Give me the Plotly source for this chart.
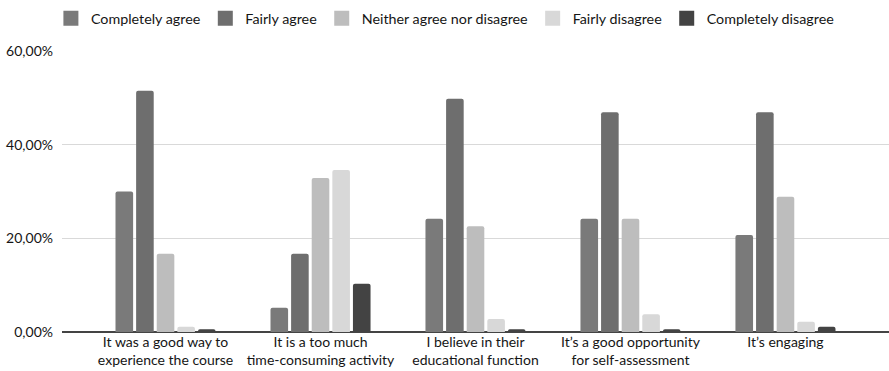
import plotly.graph_objects as go

# Survey statements (x categories)
statements = [
    "It was a good way to<br>experience the course",
    "It is a too much<br>time-consuming activity",
    "I believe in their<br>educational function",
    "It\u2019s a good opportunity<br>for self-assessment",
    "It\u2019s engaging",
]

# Share of answers per response option (fractions)
completely_agree = [0.300, 0.052, 0.242, 0.242, 0.207]
fairly_agree = [0.515, 0.167, 0.498, 0.469, 0.469]
neither = [0.167, 0.329, 0.226, 0.242, 0.289]
fairly_disagree = [0.011, 0.346, 0.028, 0.038, 0.022]
completely_disagree = [0.006, 0.103, 0.006, 0.006, 0.011]

series_names = [
    "Completely agree",
    "Fairly agree",
    "Neither agree nor disagree",
    "Fairly disagree",
    "Completely disagree",
]
series_values = [completely_agree, fairly_agree, neither, fairly_disagree, completely_disagree]
series_colors = ["#7a7a7a", "#6e6e6e", "#bdbdbd", "#d8d8d8", "#434343"]

FONT = "Lato, 'Open Sans', sans-serif"
TEXT = "#151515"

fig = go.Figure()
for name, vals, col in zip(series_names, series_values, series_colors):
    fig.add_trace(go.Bar(
        x=statements,
        y=vals,
        name=name,
        legendgroup=name,
        showlegend=False,
        marker=dict(color=col, line=dict(width=0), cornerradius=2),
        hoverinfo="skip",
    ))
    # larger square swatch for the legend entry
    fig.add_trace(go.Scatter(
        x=[None],
        y=[None],
        mode="markers",
        name=name,
        legendgroup=name,
        marker=dict(symbol="square", size=15, color=col, line=dict(width=0)),
        hoverinfo="skip",
    ))

fig.update_layout(
    width=889,
    height=371,
    margin=dict(l=62, r=0, t=51, b=39),
    paper_bgcolor="white",
    plot_bgcolor="white",
    barmode="group",
    bargap=0.335,
    bargroupgap=0.146,
    separators=",.",
    font=dict(family=FONT, size=14, color=TEXT),
    legend=dict(
        orientation="h",
        x=0.463,
        xanchor="center",
        y=0.95,
        yanchor="middle",
        yref="container",
        font=dict(size=14.3, color=TEXT),
        itemwidth=30,
        bgcolor="rgba(0,0,0,0)",
    ),
    showlegend=True,
)

fig.update_xaxes(
    range=[-0.668, 4.668],
    showgrid=False,
    showline=False,
    ticks="",
    tickfont=dict(size=14, color=TEXT),
    fixedrange=True,
)
fig.update_yaxes(
    range=[0, 0.6],
    tickvals=[0, 0.2, 0.4, 0.6],
    tickformat=".2%",
    showgrid=True,
    gridcolor="#d9d9d9",
    gridwidth=1,
    zeroline=True,
    zerolinecolor="#444444",
    zerolinewidth=1.5,
    showline=False,
    ticks="",
    ticklabelstandoff=8,
    tickfont=dict(size=14, color=TEXT),
    fixedrange=True,
)

fig.write_html("out.html")
